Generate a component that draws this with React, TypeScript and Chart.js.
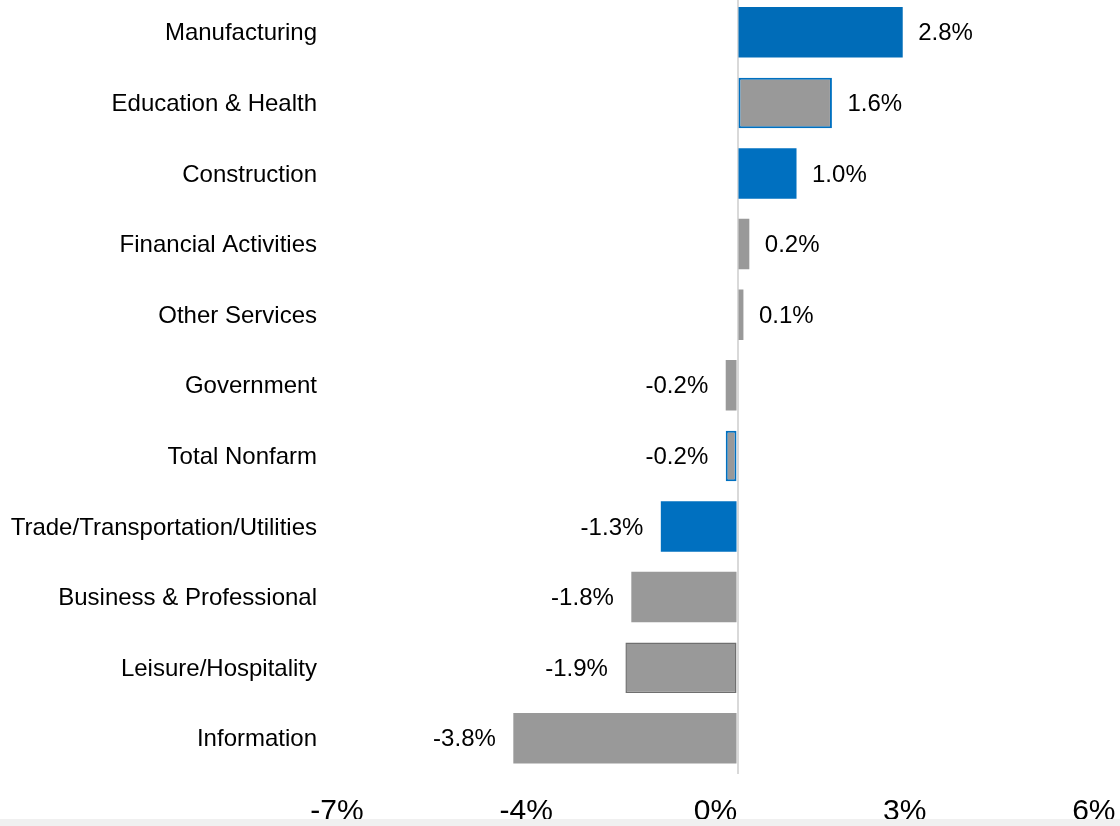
import React, { useEffect, useRef } from "react";
import { Chart, registerables } from "chart.js";

Chart.register(...registerables);

const categories = [
  "Manufacturing",
  "Education & Health",
  "Construction",
  "Financial Activities",
  "Other Services",
  "Government",
  "Total Nonfarm",
  "Trade/Transportation/Utilities",
  "Business & Professional",
  "Leisure/Hospitality",
  "Information",
];

const values = [2.8, 1.6, 1.0, 0.2, 0.1, -0.2, -0.2, -1.3, -1.8, -1.9, -3.8];

const barColors = [
  "#006cb8",
  "#999999",
  "#0070c0",
  "#999999",
  "#999999",
  "#999999",
  "#999999",
  "#0070c0",
  "#999999",
  "#999999",
  "#999999",
];

const borderColors = [
  "#006cb8",
  "#0070c0",
  "#0070c0",
  "#999999",
  "#999999",
  "#999999",
  "#0070c0",
  "#0070c0",
  "#999999",
  "#6f6f6f",
  "#999999",
];

const borderWidths = [0, 2, 0, 0, 0, 0, 2, 0, 0, 1.5, 0];

const xTickLabels = ["-7%", "-4%", "0%", "3%", "6%"];

const CANVAS_W = 1120;
const CANVAS_H = 829;
const AREA_LEFT = 330;
const AREA_BOTTOM = 776.6;

const labelFont = '"Liberation Sans", Arial, Helvetica, sans-serif';

const valueLabelPlugin = {
  id: "valueLabels",
  afterDatasetsDraw(chart: any) {
    const ctx = chart.ctx;
    const meta = chart.getDatasetMeta(0);
    ctx.save();
    ctx.font = `24px ${labelFont}`;
    ctx.fillStyle = "#000000";
    ctx.textBaseline = "middle";
    meta.data.forEach((bar: any, i: number) => {
      const v = values[i];
      const text = v.toFixed(1) + "%";
      if (v >= 0) {
        ctx.textAlign = "left";
        ctx.fillText(text, bar.x + 15.5, bar.y + 1.5);
      } else {
        ctx.textAlign = "right";
        ctx.fillText(text, bar.x - 17.5, bar.y + 1.5);
      }
    });
    ctx.restore();
  },
};

export default function App() {
  const canvasRef = useRef<HTMLCanvasElement | null>(null);

  useEffect(() => {
    if (!canvasRef.current) return;
    const chart = new Chart(canvasRef.current, {
      type: "bar",
      data: {
        labels: categories,
        datasets: [
          {
            data: values,
            backgroundColor: barColors,
            borderColor: borderColors,
            borderWidth: borderWidths,
            borderSkipped: false,
            barPercentage: 0.715,
            categoryPercentage: 1,
            xAxisID: "x",
          },
        ],
      },
      options: {
        indexAxis: "y",
        responsive: false,
        animation: false,
        events: [],
        layout: { padding: { left: 0, right: 8, top: 0, bottom: 0 } },
        plugins: {
          legend: { display: false },
          tooltip: { enabled: false },
          title: { display: false },
        },
        scales: {
          y: {
            type: "category",
            position: "left",
            grid: { display: false, drawTicks: false },
            border: { display: false },
            ticks: {
              color: "#000000",
              padding: 13,
              labelOffset: 1.5,
              font: { family: labelFont, size: 24 },
              autoSkip: false,
            },
            afterFit: (scale: any) => {
              scale.width = AREA_LEFT;
              scale.paddingTop = 0;
              scale.paddingBottom = 0;
            },
          },
          x: {
            type: "linear",
            position: "bottom",
            min: -6.907,
            max: 6.347,
            ticks: { display: false },
            grid: {
              drawTicks: false,
              color: (ctx: any) =>
                ctx.tick && ctx.tick.value === 0 ? "#d9d9d9" : "rgba(0,0,0,0)",
              lineWidth: 2,
            },
            border: { display: false },
            afterBuildTicks: (scale: any) => {
              scale.ticks = [{ value: 0 }];
            },
            afterFit: (scale: any) => {
              scale.height = 0;
              scale.paddingLeft = 0;
              scale.paddingRight = 0;
            },
          },
          x2: {
            type: "linear",
            position: "bottom",
            min: -0.037,
            max: 4.096,
            grid: { display: false, drawTicks: false },
            border: { display: false },
            ticks: {
              color: "#000000",
              padding: 20,
              autoSkip: false,
              maxRotation: 0,
              minRotation: 0,
              font: { family: labelFont, size: 30 },
              callback: (v: any) => xTickLabels[Math.round(Number(v))] ?? "",
            },
            afterBuildTicks: (scale: any) => {
              scale.ticks = xTickLabels.map((_, i) => ({ value: i }));
            },
            afterFit: (scale: any) => {
              scale.height = CANVAS_H - AREA_BOTTOM;
              scale.paddingLeft = 0;
              scale.paddingRight = 0;
            },
          },
        },
      },
      plugins: [valueLabelPlugin],
    } as any);
    return () => chart.destroy();
  }, []);

  return (
    <div>
      <div
        style={{
          position: "absolute",
          left: 0,
          top: -3,
          width: CANVAS_W,
          height: CANVAS_H,
          background: "#ffffff",
        }}
      >
        <canvas
          ref={canvasRef}
          width={CANVAS_W}
          height={CANVAS_H}
          style={{ display: "block", width: CANVAS_W, height: CANVAS_H }}
        />
      </div>
      <div
        style={{
          position: "absolute",
          left: 0,
          top: 819,
          width: CANVAS_W,
          height: 7,
          background: "#f0f0f0",
        }}
      />
    </div>
  );
}
